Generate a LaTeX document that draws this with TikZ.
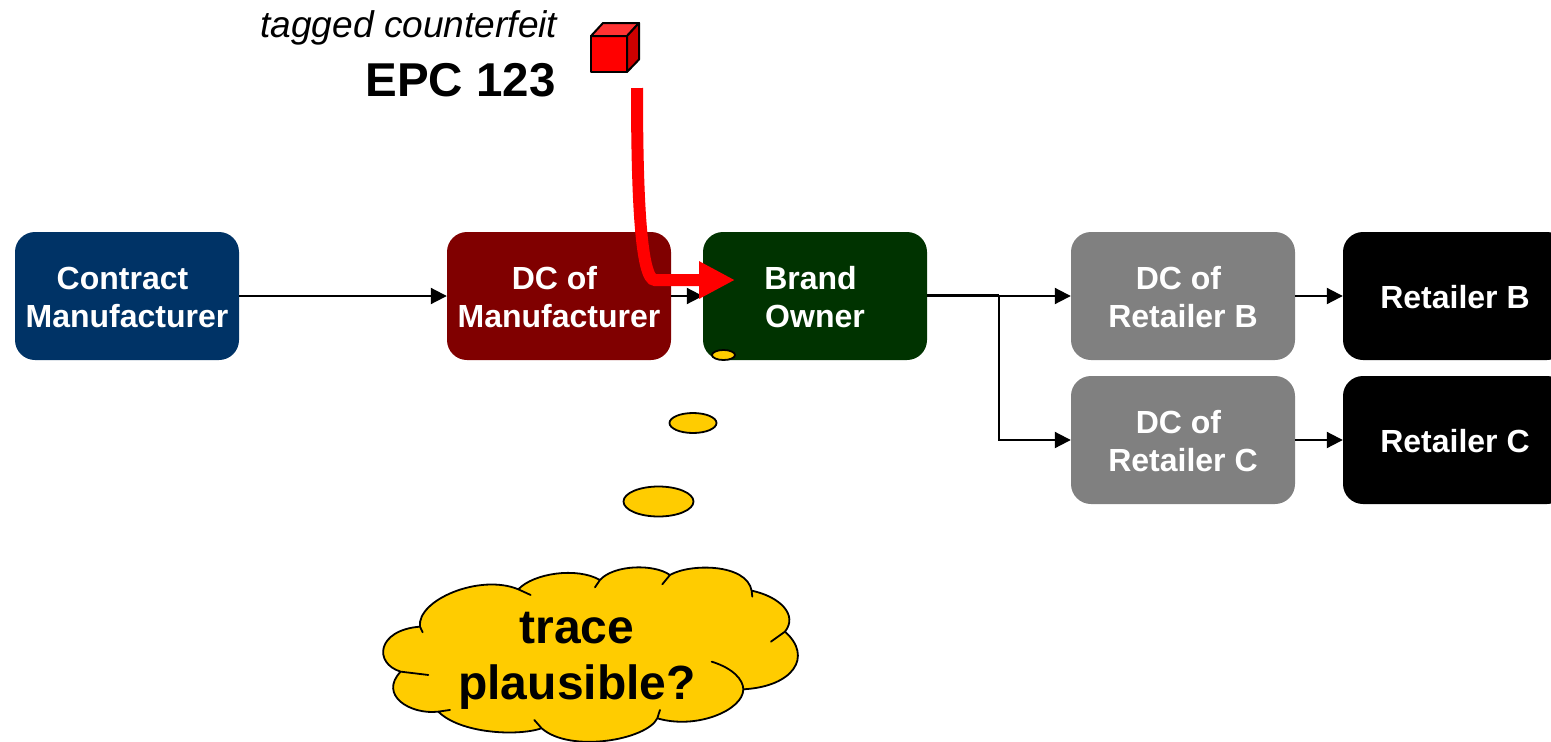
\documentclass[tikz,border=0pt]{standalone}
\usepackage{fontspec}
\setmainfont{Liberation Sans}
\usetikzlibrary{arrows.meta,shapes.geometric}
\definecolor{navy}{HTML}{003366}
\definecolor{maroon}{HTML}{800000}
\definecolor{forest}{HTML}{003300}
\definecolor{midgrey}{HTML}{808080}
\definecolor{gold}{HTML}{FFCC00}
\definecolor{lightred}{HTML}{FF3333}
\definecolor{darkred}{HTML}{CC0000}
\tikzset{
  stagebox/.style={rectangle,rounded corners=20pt,minimum width=224pt,minimum height=128pt,inner sep=0pt,
    text=white,align=center,font=\fontsize{32}{38}\selectfont\bfseries},
  flow/.style={line width=2pt,-{Triangle[length=16pt,width=16pt]}},
  plainline/.style={line width=2pt},
  bubble/.style={ellipse,draw=black,line width=1.8pt,fill=gold},
  cloudline/.style={draw=black,line width=1.8pt},
  redarrow/.style={red,line width=12pt,-{Triangle[length=36pt,width=35pt]}},
  cubeface/.style={draw=black,line width=2pt,line join=round},
}
\newcommand{\tr}{\hspace*{9pt}}
\newcommand{\lf}{\rule{0pt}{25.4pt}}
\begin{document}
\begin{tikzpicture}[x=1pt,y=-1pt]
\useasboundingbox (0,0) rectangle (1551,742);
\fill[white] (0,0) rectangle (1551,742);
\begin{scope}
\clip (0,0) rectangle (1551,742);
\node[stagebox,fill=navy] (cm) at (127,296) {\lf Contract\tr\\Manufacturer};
\node[stagebox,fill=maroon] (dcm) at (559,296) {\lf DC of\tr\\Manufacturer};
\node[stagebox,fill=forest] (bo) at (815,296) {\lf Brand\tr\\Owner};
\node[stagebox,fill=midgrey] (dcb) at (1183,296) {\lf DC of\tr\\Retailer B};
\node[stagebox,fill=midgrey] (dcc) at (1183,440) {\lf DC of\tr\\Retailer C};
\node[stagebox,fill=black] (rb) at (1455,296) {\lf Retailer B};
\node[stagebox,fill=black] (rc) at (1455,440) {\lf Retailer C};
\end{scope}
\coordinate (split) at (999,295.3);
\draw[flow] (cm) -- (dcm);
\draw[flow] (dcm) -- (bo);
\draw[flow] (bo) -- (dcb);
\draw[plainline] (bo.east |- split) -- (split);
\draw[flow] (split) |- (dcc);
\draw[flow] (dcb) -- (rb);
\draw[flow] (dcc) -- (rc);
% cube
\draw[cubeface,fill=red] (591,36) rectangle (627,72);
\draw[cubeface,fill=lightred] (591,36) -- (603,23) -- (639,23) -- (627,36) -- cycle;
\draw[cubeface,fill=darkred] (627,36) -- (639,23) -- (639,59.5) -- (627,72) -- cycle;
\node[anchor=base east,inner sep=0pt,font=\fontsize{37.1}{40}\selectfont\itshape] (tag) at (557.5,37) {tagged counterfeit};
\node[anchor=base east,inner sep=0pt,font=\fontsize{47.5}{52}\selectfont\bfseries] (epc) at (555.8,96.5) {EPC 123};
% red arrow
\coordinate (redstart) at (637,88);
\coordinate (redbend) at (655,280);
\coordinate (redend) at (735,280);
\draw[redarrow] (redstart) .. controls (637,200) and (641,280) .. (redbend) -- (redend);
% thought bubbles
\node[bubble,minimum width=23pt,minimum height=10pt,inner sep=0pt] (b1) at (723.5,355) {};
\node[bubble,minimum width=47pt,minimum height=20pt,inner sep=0pt] (b2) at (693,423) {};
\node[bubble,minimum width=70pt,minimum height=30pt,inner sep=0pt] (b3) at (658.5,501.5) {};
% cloud
\begin{scope}[shift={(370,400)},x=0.3333pt,y=-0.3333pt]
\clip (-1110,0) rectangle (3543,1026);
\fill[gold] (150,680) .. controls (140,600) and (330,520) .. (445,568)
 .. controls (490,520) and (620,500) .. (690,540)
 .. controls (730,495) and (850,490) .. (900,525)
 .. controls (960,490) and (1130,490) .. (1145,572)
 .. controls (1230,590) and (1285,645) .. (1245,695)
 .. controls (1330,770) and (1270,860) .. (1120,868)
 .. controls (1120,930) and (980,990) .. (862,955)
 .. controls (830,1020) and (600,1060) .. (515,985)
 .. controls (440,1010) and (270,1000) .. (205,935)
 .. controls (120,945) and (25,885) .. (92,815)
 .. controls (10,790) and (20,690) .. (150,680) -- cycle;
\path[cloudline,line cap=round]
 (158,697) -- (150,680) .. controls (140,600) and (330,520) .. (445,568) -- (482,585)
 (445,568) .. controls (490,520) and (620,500) .. (690,540) -- (675,562)
 (690,540) .. controls (730,495) and (850,490) .. (900,525) -- (877,553)
 (900,525) .. controls (960,490) and (1130,490) .. (1145,572) -- (1147,590)
 (1145,572) .. controls (1230,590) and (1285,645) .. (1245,695) -- (1203,725)
 (1245,695) .. controls (1330,770) and (1270,860) .. (1120,868)
 (1025,785) .. controls (1090,805) and (1120,840) .. (1120,868)
  .. controls (1120,930) and (980,990) .. (862,955) -- (870,930)
 (862,955) .. controls (830,1020) and (600,1060) .. (515,985) -- (493,960)
 (515,985) .. controls (440,1010) and (270,1000) .. (205,935) -- (240,930)
 (205,935) .. controls (120,945) and (25,885) .. (92,815) -- (175,825)
 (92,815) .. controls (10,790) and (20,690) .. (150,680);
\end{scope}
\node[inner sep=0pt,align=center,font=\fontsize{48}{56}\selectfont\bfseries] (q) at (577,661) {trace\\plausible?};
\end{tikzpicture}
\end{document}
